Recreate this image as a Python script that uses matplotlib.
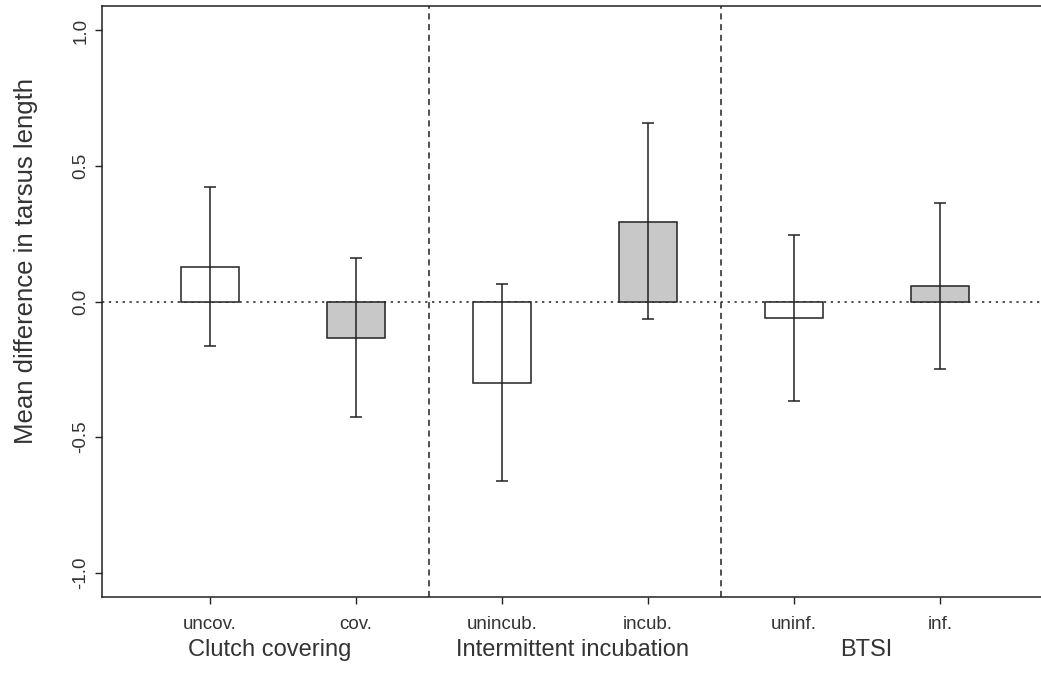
import matplotlib.pyplot as plt

plt.rcParams['font.family'] = ['Liberation Sans', 'DejaVu Sans']

# Bar labels, groups and values
tick_labels = ["uncov.", "cov.", "unincub.", "incub.", "uninf.", "inf."]
group_labels = ["Clutch covering", "Intermittent incubation", "BTSI"]
means = [0.129, -0.134, -0.300, 0.293, -0.061, 0.057]
upper = [0.423, 0.161, 0.064, 0.658, 0.245, 0.363]
lower = [-0.163, -0.425, -0.663, -0.064, -0.368, -0.248]
fills = ["white", "#c8c8c8", "white", "#c8c8c8", "white", "#c8c8c8"]

ink = "#222222"
x = list(range(len(means)))
group_x = [0.41, 2.48, 4.49]  # where the group captions sit

fig = plt.figure(figsize=(10.41, 6.73), dpi=100)
ax = fig.add_axes([0.098, 0.113, 0.902, 0.878])

ax.bar(x, means, width=0.4, color=fills, edgecolor=ink, linewidth=1.1, zorder=2)
yerr = [[m - lo for m, lo in zip(means, lower)], [up - m for m, up in zip(means, upper)]]
ax.errorbar(x, means, yerr=yerr, fmt='none', ecolor=ink, elinewidth=1.1,
            capsize=4, capthick=1.1, zorder=3)

ax.axhline(0, color=ink, linestyle=(0, (1.5, 3)), linewidth=1.1, zorder=1)
for xv in (1.5, 3.5):
    ax.axvline(xv, color=ink, linestyle=(0, (4, 3)), linewidth=1.1, zorder=1)

ax.set_xlim(-0.74, 5.69)
ax.set_ylim(-1.09, 1.09)

ax.set_yticks([-1.0, -0.5, 0.0, 0.5, 1.0])
ax.set_yticklabels(["-1.0", "-0.5", "0.0", "0.5", "1.0"], rotation=90,
                   va='center', fontsize=13.5, color="#333333")
ax.set_xticks(x)
ax.set_xticklabels(tick_labels, fontsize=13.5, color="#333333")
ax.tick_params(axis='y', length=5, width=1, color=ink, pad=4)
ax.tick_params(axis='x', length=5, width=1, color=ink, pad=9)

for s in ("left", "top", "bottom"):
    ax.spines[s].set_color(ink)
    ax.spines[s].set_linewidth(1.1)
ax.spines["right"].set_visible(False)

ax.set_ylabel("Mean difference in tarsus length", fontsize=18.5, color="#333333")
ax.yaxis.set_label_coords(-0.068, 0.569)

for gx, g in zip(group_x, group_labels):
    ax.text(gx, -0.09, g, transform=ax.get_xaxis_transform(),
            ha='center', va='center', fontsize=17, color="#333333")

plt.savefig("out.png", dpi=100)
